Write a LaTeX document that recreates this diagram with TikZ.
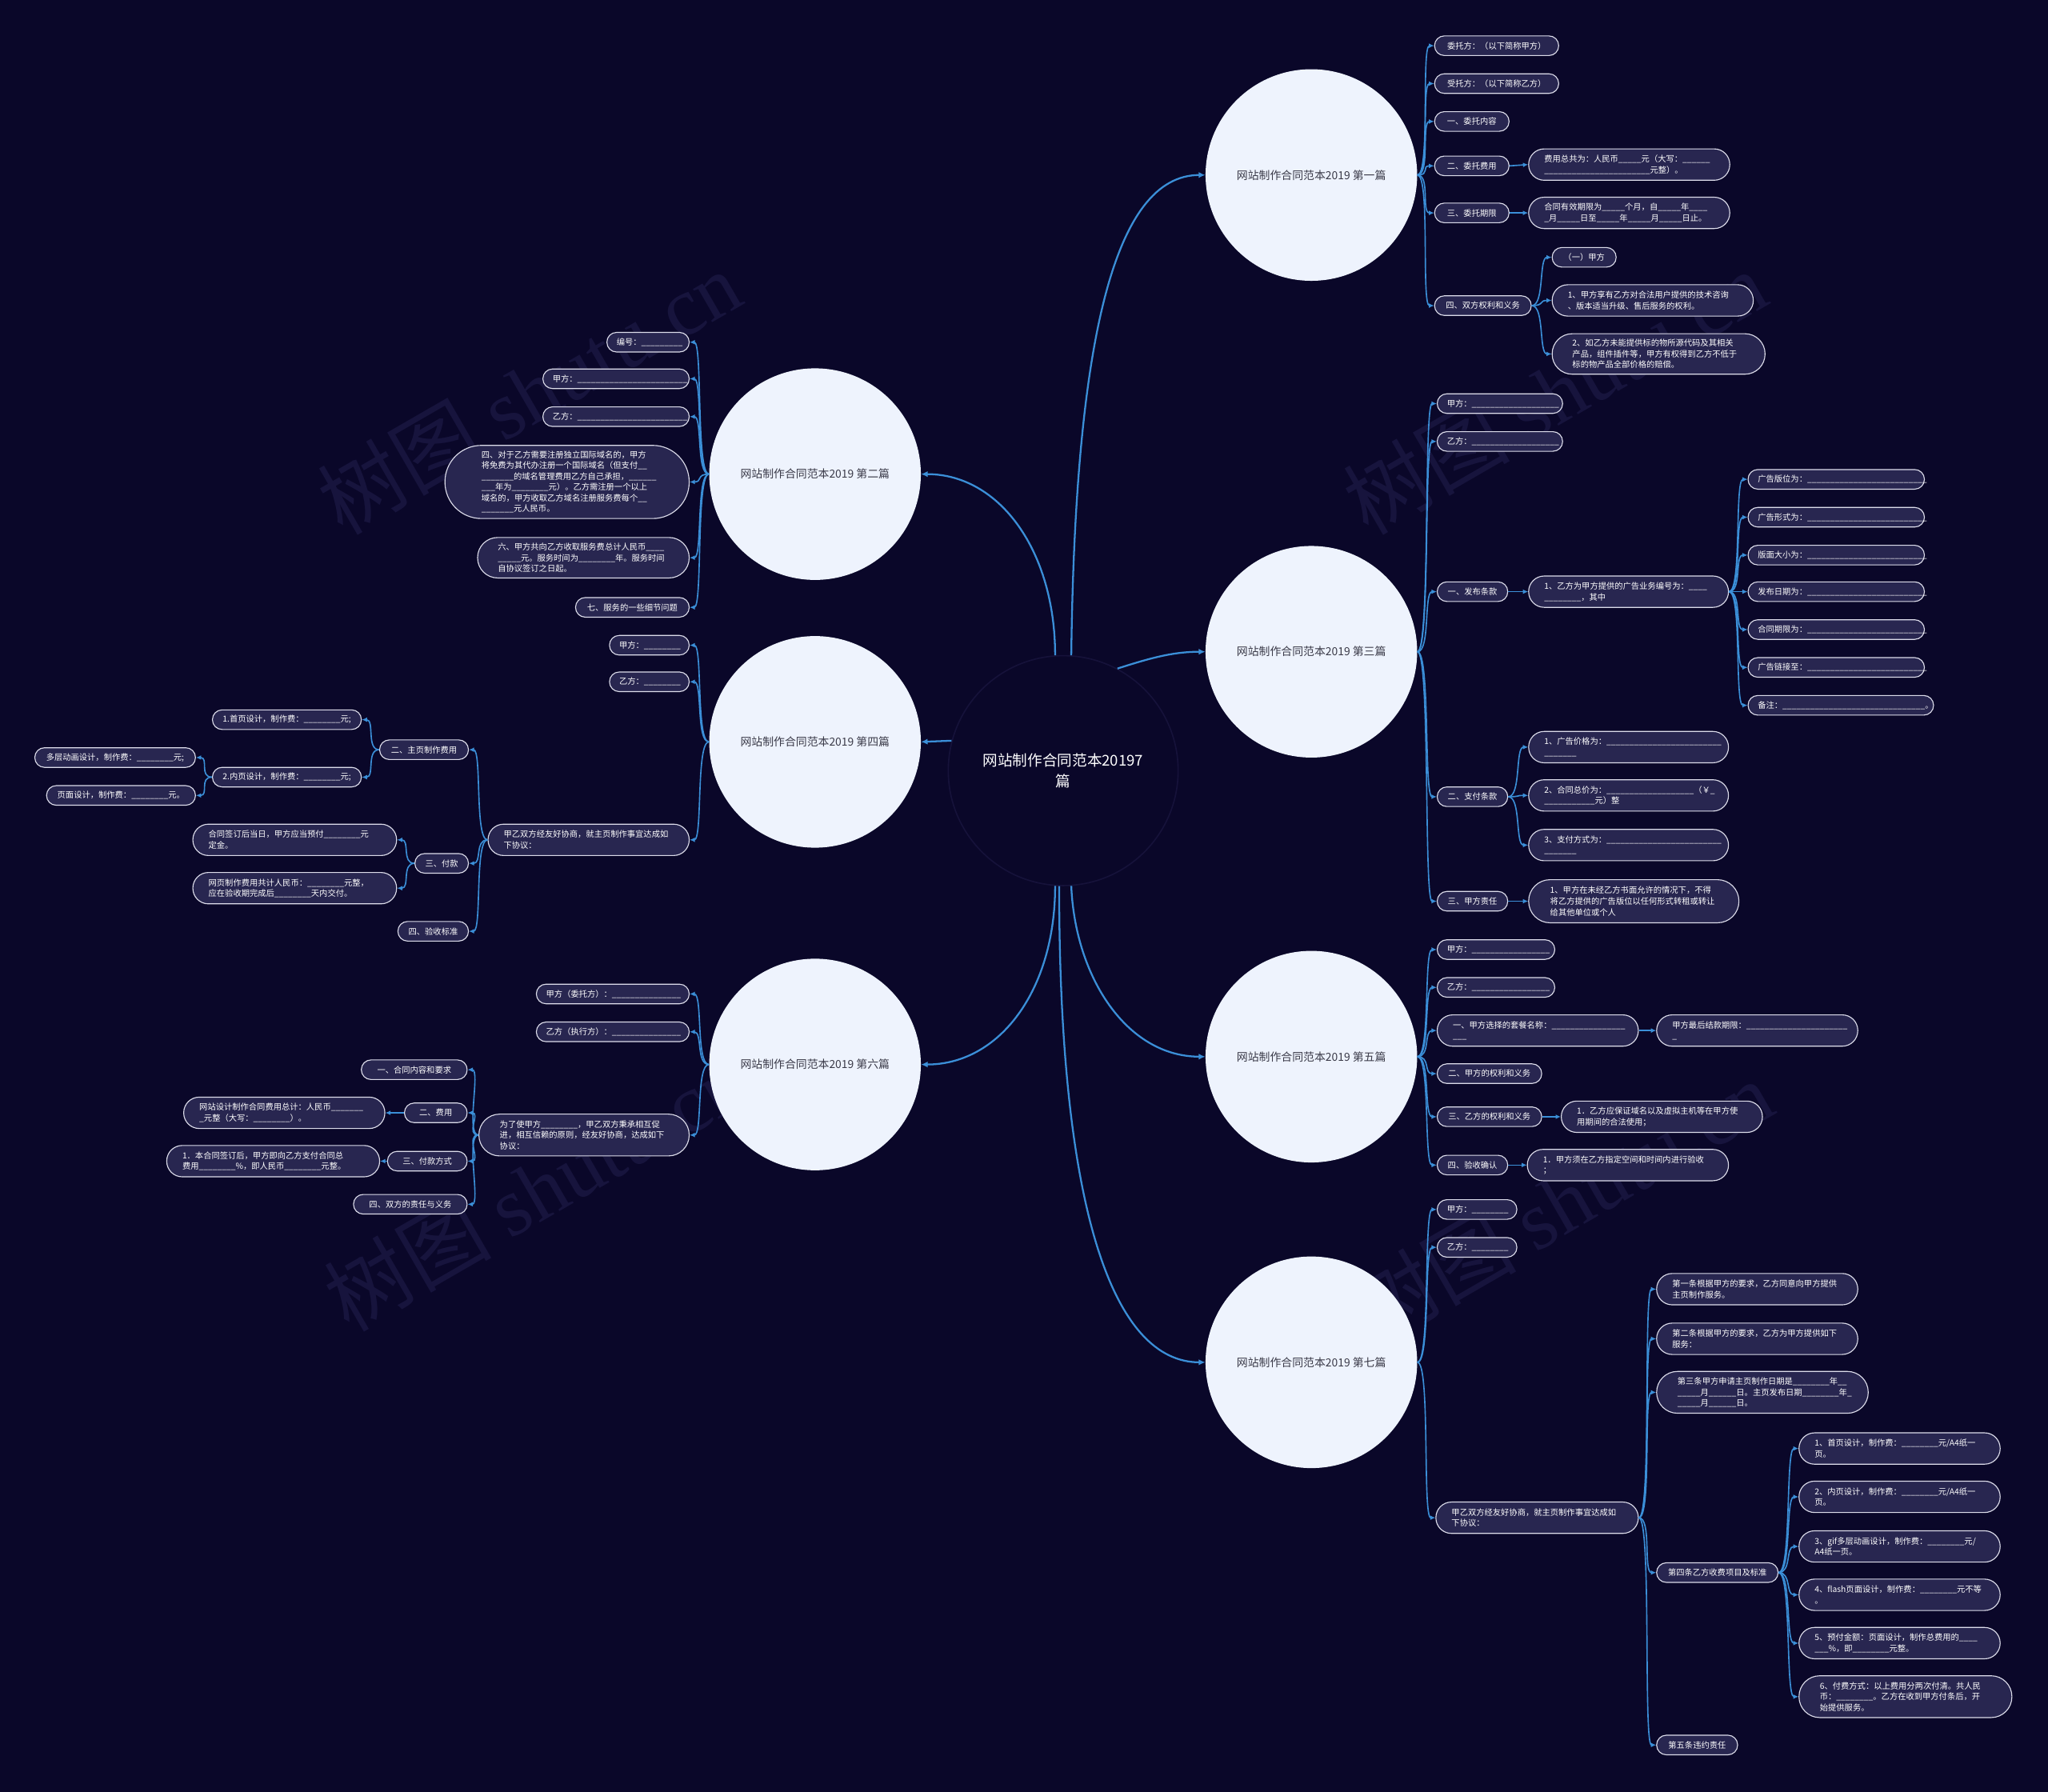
\documentclass[tikz,border=0pt]{standalone}
\usepackage{fontspec}
\setmainfont{Noto Sans CJK SC}
\newfontfamily\wmlatin{Liberation Serif}
\usetikzlibrary{arrows.meta}
\definecolor{bgc}{HTML}{0A0729}
\definecolor{nodefill}{HTML}{282650}
\definecolor{nodeline}{HTML}{DCDCEA}
\definecolor{linkc}{HTML}{3B8FD8}
\definecolor{circfill}{HTML}{EEF3FD}
\definecolor{circtext}{HTML}{3A3A48}
\definecolor{wmc}{HTML}{17143D}
\definecolor{ctrline}{HTML}{16123A}
\ExplSyntaxOn
\NewDocumentCommand\mmbl{m}{\prg_replicate:nn{#1}{\textunderscore}}
\ExplSyntaxOff
\tikzset{
 box/.style={draw=nodeline, fill=nodefill, line width=0.7pt, text=white, font=\fontsize{6.3}{8.3}\selectfont, inner ysep=0pt},
 conn/.style={draw=linkc, line width=1pt, -{Latex[length=4pt,width=3.6pt]}},
 mainconn/.style={draw=linkc, line width=1.4pt, -{Latex[length=5pt,width=4.6pt]}},
 sub/.style={circle, fill=circfill, minimum size=162pt, inner sep=0pt, text=circtext, font=\fontsize{8.5}{10}\selectfont},
 wm/.style={text=wmc, rotate=30, font=\fontsize{64}{64}\selectfont},
}
\newcommand\mmbox[6]{%
 \pgfmathsetmacro\mmtw{#4-#5}\pgfmathsetmacro\mmhr{#5/2}\pgfmathsetmacro\mmrc{#5/2-0.1}%
 \ifdim #5pt<18pt
 \node[box,anchor=west,align=center,text width=\mmtw pt,inner xsep=\mmhr pt,minimum height=#5pt,rounded corners=\mmrc pt] (#1) at (#2,#3) {#6};%
 \else
 \node[box,anchor=west,align=left,text width=\mmtw pt,inner xsep=\mmhr pt,minimum height=#5pt,rounded corners=\mmrc pt] (#1) at (#2,#3) {#6};%
 \fi}
\newcommand\mmboxl[6]{%
 \pgfmathsetmacro\mmtw{#4-#5}\pgfmathsetmacro\mmhr{#5/2}\pgfmathsetmacro\mmrc{#5/2-0.1}%
 \ifdim #5pt<18pt
 \node[box,anchor=east,align=center,text width=\mmtw pt,inner xsep=\mmhr pt,minimum height=#5pt,rounded corners=\mmrc pt] (#1) at (#2,#3) {#6};%
 \else
 \node[box,anchor=east,align=left,text width=\mmtw pt,inner xsep=\mmhr pt,minimum height=#5pt,rounded corners=\mmrc pt] (#1) at (#2,#3) {#6};%
 \fi}
\newcommand\mmr[2]{\draw[conn] (#1.east) .. controls +(10,0) and +(-10,0) .. (#2.west);}
\newcommand\mml[2]{\draw[conn] (#1.west) .. controls +(-10,0) and +(10,0) .. (#2.east);}
\newcommand\mms[2]{\draw[conn] (#1.east) -- (#2.west);}
\newcommand\mmsl[2]{\draw[conn] (#1.west) -- (#2.east);}
\begin{document}
\begin{tikzpicture}[x=1pt,y=-1pt]
\fill[bgc] (0,0) rectangle (1568,1372);
\useasboundingbox (0,0) rectangle (1568,1372);
% watermarks
\node[wm] (wm1) at (405,300) {树图 {\wmlatin shutu.cn}};
\node[wm] (wm2) at (1190,300) {树图 {\wmlatin shutu.cn}};
\node[wm] (wm3) at (410,910) {树图 {\wmlatin shutu.cn}};
\node[wm] (wm4) at (1195,920) {树图 {\wmlatin shutu.cn}};
% center
\node[circle, draw=ctrline, line width=1pt, minimum size=176pt, inner sep=0pt, text=white, align=center, font=\fontsize{11.4}{16}\selectfont] (ctr) at (814,590) {网站制作合同范本20197\\篇};
% circles
\node[sub] (c1) at (1004,134) {网站制作合同范本2019 第一篇};
\node[sub] (c3) at (1004,499) {网站制作合同范本2019 第三篇};
\node[sub] (c5) at (1004,809) {网站制作合同范本2019 第五篇};
\node[sub] (c7) at (1004,1043) {网站制作合同范本2019 第七篇};
\node[sub] (c2) at (624,363) {网站制作合同范本2019 第二篇};
\node[sub] (c4) at (624,568) {网站制作合同范本2019 第四篇};
\node[sub] (c6) at (624,815) {网站制作合同范本2019 第六篇};
% section 1
\mmbox{a1}{1098}{35}{95}{15}{委托方：（以下简称甲方）}
\mmbox{a2}{1098}{64}{95}{15}{受托方：（以下简称乙方）}
\mmbox{a3}{1098}{93}{57}{15}{一、委托内容}
\mmbox{a4}{1098}{127}{57}{15}{二、委托费用}
\mmbox{a4c}{1170}{126}{154}{24}{费用总共为：人民币\mmbl{5}元（大写：\mmbl{6}\\\mmbl{23}元整）。}
\mmbox{a5}{1098}{163}{57}{15}{三、委托期限}
\mmbox{a5c}{1170}{163}{154}{24}{合同有效期限为\mmbl{5}个月，自\mmbl{5}年\mmbl{4}\\\mmbl{1}月\mmbl{5}日至\mmbl{5}年\mmbl{5}月\mmbl{5}日止。}
\mmbox{a6}{1098}{234}{74}{15}{四、双方权利和义务}
\mmbox{a6a}{1188}{197}{49}{15}{（一）甲方}
\mmbox{a6b}{1188}{230}{154}{24}{1、甲方享有乙方对合法用户提供的技术咨询\\、版本适当升级、售后服务的权利。}
\mmbox{a6c}{1188}{271}{163}{31}{2、如乙方未能提供标的物所源代码及其相关\\产品，组件插件等，甲方有权得到乙方不低于\\标的物产品全部价格的赔偿。}
% section 3
\mmbox{b1}{1100}{309}{96}{15}{甲方：\mmbl{19}}
\mmbox{b2}{1100}{338}{96}{15}{乙方：\mmbl{19}}
\mmbox{b3}{1100}{453}{54}{15}{一、发布条款}
\mmbox{b3c}{1170}{453}{153}{24}{1、乙方为甲方提供的广告业务编号为：\mmbl{4}\\\mmbl{8}，其中}
\mmbox{b31}{1338}{367}{135}{15}{广告版位为：\mmbl{26}}
\mmbox{b32}{1338}{396}{135}{15}{广告形式为：\mmbl{26}}
\mmbox{b33}{1338}{425}{135}{15}{版面大小为：\mmbl{26}}
\mmbox{b34}{1338}{453}{135}{15}{发布日期为：\mmbl{26}}
\mmbox{b35}{1338}{482}{135}{15}{合同期限为：\mmbl{26}}
\mmbox{b36}{1338}{511}{135}{15}{广告链接至：\mmbl{26}}
\mmbox{b37}{1338}{540}{142}{15}{备注：\mmbl{31}。}
\mmbox{b4}{1100}{610}{54}{15}{二、支付条款}
\mmbox{b41}{1170}{572}{153}{24}{1、广告价格为：\mmbl{25}\\\mmbl{7}}
\mmbox{b42}{1170}{609}{153}{24}{2、合同总价为：\mmbl{19}（￥\mmbl{1}\\\mmbl{11}元）整}
\mmbox{b43}{1170}{647}{153}{24}{3、支付方式为：\mmbl{25}\\\mmbl{7}}
\mmbox{b5}{1100}{690}{54}{15}{三、甲方责任}
\mmbox{b5c}{1170}{690}{161}{33}{1、甲方在未经乙方书面允许的情况下，不得\\将乙方提供的广告版位以任何形式转租或转让\\给其他单位或个人}
% section 5
\mmbox{cc1}{1100}{727}{90}{15}{甲方：\mmbl{17}}
\mmbox{cc2}{1100}{756}{90}{15}{乙方：\mmbl{17}}
\mmbox{cc3}{1100}{789}{154}{24}{一、甲方选择的套餐名称：\mmbl{16}\\\mmbl{3}}
\mmbox{cc3c}{1268}{789}{154}{24}{甲方最后结款期限：\mmbl{22}\\\mmbl{1}}
\mmbox{cc4}{1100}{822}{80}{15}{二、甲方的权利和义务}
\mmbox{cc5}{1100}{855}{80}{15}{三、乙方的权利和义务}
\mmbox{cc5c}{1195}{855}{154}{24}{1．乙方应保证域名以及虚拟主机等在甲方使\\用期间的合法使用；}
\mmbox{cc6}{1100}{892}{54}{15}{四、验收确认}
\mmbox{cc6c}{1169}{892}{154}{24}{1．甲方须在乙方指定空间和时间内进行验收\\；}
% section 7
\mmbox{d1}{1100}{926}{61}{15}{甲方：\mmbl{8}}
\mmbox{d2}{1100}{955}{61}{15}{乙方：\mmbl{8}}
\mmbox{d3}{1099}{1162}{155}{24}{甲乙双方经友好协商，就主页制作事宜达成如\\下协议：}
\mmbox{d31}{1268}{987}{154}{24}{第一条根据甲方的要求，乙方同意向甲方提供\\主页制作服务。}
\mmbox{d32}{1268}{1025}{154}{24}{第二条根据甲方的要求，乙方为甲方提供如下\\服务：}
\mmbox{d33}{1268}{1066}{162}{32}{第三条甲方申请主页制作日期是\mmbl{8}年\mmbl{2}\\\mmbl{5}月\mmbl{6}日。主页发布日期\mmbl{8}年\mmbl{1}\\\mmbl{5}月\mmbl{6}日。}
\mmbox{d34}{1268}{1204}{93}{15}{第四条乙方收费项目及标准}
\mmbox{d35}{1268}{1336}{62}{15}{第五条违约责任}
\mmbox{d41}{1377}{1109}{154}{24}{1、首页设计，制作费：\mmbl{8}元/A4纸一\\页。}
\mmbox{d42}{1377}{1146}{154}{24}{2、内页设计，制作费：\mmbl{8}元/A4纸一\\页。}
\mmbox{d43}{1377}{1184}{154}{24}{3、gif多层动画设计，制作费：\mmbl{8}元/\\A4纸一页。}
\mmbox{d44}{1377}{1221}{154}{24}{4、flash页面设计，制作费：\mmbl{8}元不等\\。}
\mmbox{d45}{1377}{1258}{154}{24}{5、预付金额：页面设计，制作总费用的\mmbl{4}\\\mmbl{3}\%，即\mmbl{8}元整。}
\mmbox{d46}{1377}{1299}{163}{32}{6、付费方式：以上费用分两次付清。共人民\\币：\mmbl{8}。乙方在收到甲方付条后，开\\始提供服务。}
% section 2
\mmboxl{e1}{528}{262}{63}{15}{编号：\mmbl{9}}
\mmboxl{e2}{528}{290}{112}{15}{甲方：\mmbl{24}}
\mmboxl{e3}{528}{319}{112}{15}{乙方：\mmbl{24}}
\mmboxl{e4}{528}{369}{187}{56}{四、对于乙方需要注册独立国际域名的，甲方\\将免费为其代办注册一个国际域名（但支付\mmbl{2}\\\mmbl{7}的域名管理费用乙方自己承担，\mmbl{6}\\\mmbl{3}年为\mmbl{8}元）。乙方需注册一个以上\\域名的，甲方收取乙方域名注册服务费每个\mmbl{2}\\\mmbl{7}元人民币。}
\mmboxl{e5}{528}{427}{162}{31}{六、甲方共向乙方收取服务费总计人民币\mmbl{4}\\\mmbl{5}元。服务时间为\mmbl{8}年。服务时间\\自协议签订之日起。}
\mmboxl{e6}{528}{465}{87}{15}{七、服务的一些细节问题}
% section 4
\mmboxl{f1}{528}{494}{61}{15}{甲方：\mmbl{8}}
\mmboxl{f2}{528}{522}{61}{15}{乙方：\mmbl{8}}
\mmboxl{f3}{528}{643}{154}{24}{甲乙双方经友好协商，就主页制作事宜达成如\\下协议：}
\mmboxl{f31}{359}{574}{68}{15}{二、主页制作费用}
\mmboxl{f32}{359}{661}{41}{15}{三、付款}
\mmboxl{f33}{359}{713}{54}{15}{四、验收标准}
\mmboxl{f311}{277}{551}{114}{15}{1.首页设计，制作费：\mmbl{8}元;}
\mmboxl{f312}{277}{595}{114}{15}{2.内页设计，制作费：\mmbl{8}元;}
\mmboxl{f3121}{150}{580}{123}{15}{多层动画设计，制作费：\mmbl{8}元;}
\mmboxl{f3122}{150}{609}{114}{15}{页面设计，制作费：\mmbl{8}元。}
\mmboxl{f321}{304}{643}{156}{24}{合同签订后当日，甲方应当预付\mmbl{8}元\\定金。}
\mmboxl{f322}{304}{680}{156}{24}{网页制作费用共计人民币：\mmbl{8}元整，\\应在验收期完成后\mmbl{8}天内交付。}
% section 6
\mmboxl{g1}{528}{761}{117}{15}{甲方（委托方）：\mmbl{15}}
\mmboxl{g2}{528}{790}{117}{15}{乙方（执行方）：\mmbl{15}}
\mmboxl{g3}{528}{869}{161}{32}{为了使甲方\mmbl{8}，甲乙双方秉承相互促\\进，相互信赖的原则，经友好协商，达成如下\\协议：}
\mmboxl{g31}{358}{819}{81}{15}{一、合同内容和要求}
\mmboxl{g32}{358}{852}{48}{15}{二、费用}
\mmboxl{g33}{358}{889}{61}{15}{三、付款方式}
\mmboxl{g34}{358}{922}{87}{15}{四、双方的责任与义务}
\mmboxl{g32c}{295}{852}{154}{24}{网站设计制作合同费用总计：人民币\mmbl{7}\\\mmbl{1}元整（大写：\mmbl{8}）。}
\mmboxl{g33c}{291}{889}{163}{24}{1．本合同签订后，甲方即向乙方支付合同总\\费用\mmbl{8}\%，即人民币\mmbl{8}元整。}
% main connectors
\draw[mainconn] (ctr.86) .. controls +(3,-240) and +(-70,0) .. (c1.west);
\draw[mainconn] (ctr.62) .. controls +(25,-8) and +(-25,0) .. (c3.west);
\draw[mainconn] (ctr.-86) .. controls +(3,70) and +(-60,0) .. (c5.west);
\draw[mainconn] (ctr.-92) .. controls +(0,250) and +(-70,0) .. (c7.west);
\draw[mainconn] (ctr.94) .. controls +(0,-80) and +(60,0) .. (c2.east);
\draw[mainconn] (ctr.165) -- (c4.east);
\draw[mainconn] (ctr.-94) .. controls +(0,80) and +(60,0) .. (c6.east);
% section connectors
\foreach \k in {a1,a2,a3,a4,a5,a6} {\mmr{c1}{\k}}
\mms{a4}{a4c} \mms{a5}{a5c}
\foreach \k in {a6a,a6b,a6c} {\mmr{a6}{\k}}
\foreach \k in {b1,b2,b3,b4,b5} {\mmr{c3}{\k}}
\mms{b3}{b3c} \mms{b5}{b5c}
\foreach \k in {b31,b32,b33,b34,b35,b36,b37} {\mmr{b3c}{\k}}
\foreach \k in {b41,b42,b43} {\mmr{b4}{\k}}
\foreach \k in {cc1,cc2,cc3,cc4,cc5,cc6} {\mmr{c5}{\k}}
\mms{cc3}{cc3c} \mms{cc5}{cc5c} \mms{cc6}{cc6c}
\foreach \k in {d1,d2,d3} {\mmr{c7}{\k}}
\foreach \k in {d31,d32,d33,d34,d35} {\mmr{d3}{\k}}
\foreach \k in {d41,d42,d43,d44,d45,d46} {\mmr{d34}{\k}}
\foreach \k in {e1,e2,e3,e4,e5,e6} {\mml{c2}{\k}}
\foreach \k in {f1,f2,f3} {\mml{c4}{\k}}
\foreach \k in {f31,f32,f33} {\mml{f3}{\k}}
\foreach \k in {f311,f312} {\mml{f31}{\k}}
\foreach \k in {f3121,f3122} {\mml{f312}{\k}}
\foreach \k in {f321,f322} {\mml{f32}{\k}}
\foreach \k in {g1,g2,g3} {\mml{c6}{\k}}
\foreach \k in {g31,g32,g33,g34} {\mml{g3}{\k}}
\mmsl{g32}{g32c} \mmsl{g33}{g33c}
\end{tikzpicture}
\end{document}
